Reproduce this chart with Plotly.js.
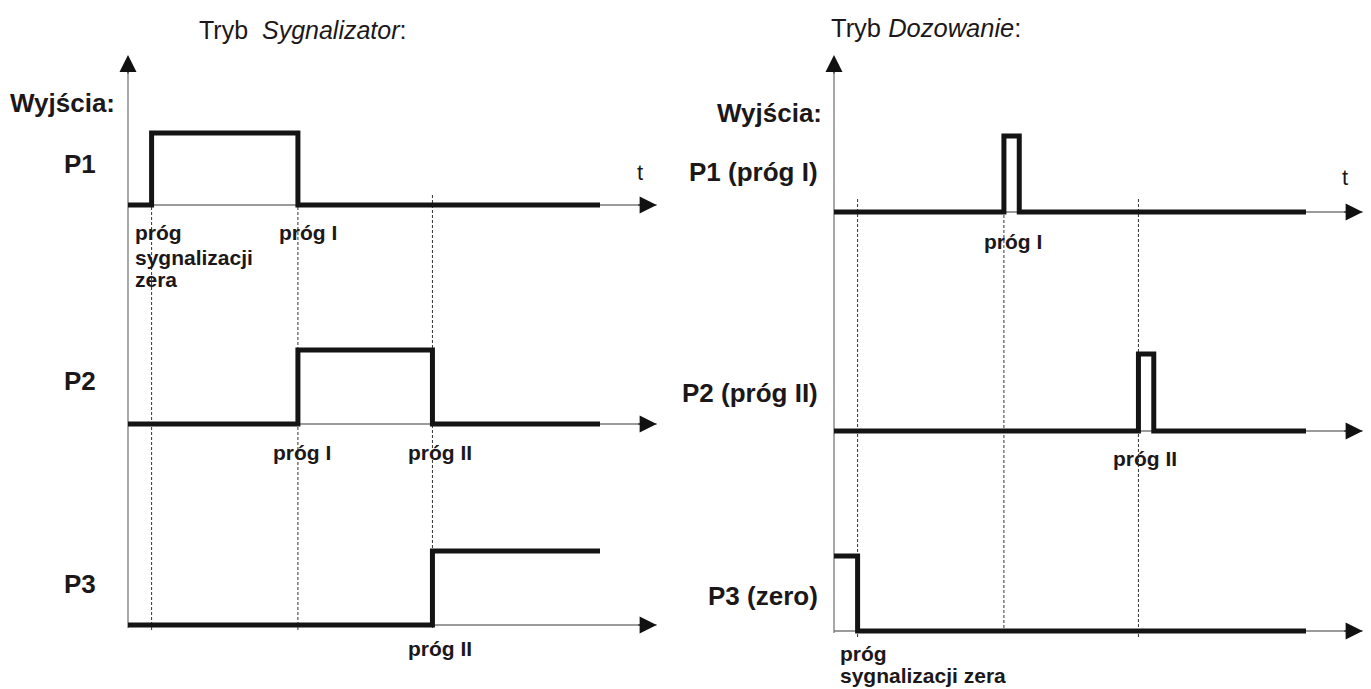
<!DOCTYPE html>
<html><head><meta charset="utf-8">
<script src="https://cdn.plot.ly/plotly-3.0.1.min.js"></script>
<style>html,body{margin:0;padding:0;background:#fff;}#chart{width:1371px;height:689px;}</style>
</head><body><div id="chart"></div>
<script>
// ---------------- DATA (time in arbitrary units) ----------------
const panelTitles = ['Tryb\u00a0 <i>Sygnalizator</i>:', 'Tryb <i>Dozowanie</i>:'];
const outputsLabel = 'Wyjścia:';
const timeLabel = 't';
const sygRowLabels = ['P1', 'P2', 'P3'];
const dozRowLabels = ['P1 (próg I)', 'P2 (próg II)', 'P3 (zero)'];

// threshold times: [próg sygnalizacji zera, próg I, próg II]
const sygThresholds = [1.0, 7.2, 12.9];
const dozThresholds = [1.0, 7.2, 12.9];
const tEnd = 20.0;      // end of the drawn signals
const tAxisEnd = 22.4;  // tip of the time axis

// Tryb Sygnalizator – output states (step after each time point)
const sygP1_t = [0, 1.0, 7.2, 20.0];   const sygP1_v = [0, 1, 0, 0];
const sygP2_t = [0, 7.2, 12.9, 20.0];  const sygP2_v = [0, 1, 0, 0];
const sygP3_t = [0, 12.9, 20.0];       const sygP3_v = [0, 1, 1];
// Tryb Dozowanie – output states
const dozP1_t = [0, 7.2, 7.85, 20.0];   const dozP1_v = [0, 1, 0, 0];
const dozP2_t = [0, 12.9, 13.55, 20.0]; const dozP2_v = [0, 1, 0, 0];
const dozP3_t = [0, 1.0, 20.0];         const dozP3_v = [1, 0, 0];

// ---------------- LAYOUT GEOMETRY ----------------
const W = 1371, H = 689;
const PXU = 23.6;                 // pixels per time unit
const ORIG = [128, 834];          // pixel x of t = 0 in each panel
const XR = [[-0.6, 23.0], [-0.6, 22.6]];
const rowsGeo = [[[205, 133], [424, 350], [625, 551]],
                 [[212, 136], [431, 354], [631, 556]]];
const px = v => v / W;
const py = v => 1 - v / H;

const INK = '#1c1819';
const AXC = '#7a7a7a';
const BOLD = 'Liberation Sans, Arial, Helvetica, sans-serif';
const REG = '"Liberation Sans Narrow", "Arial Narrow", "Liberation Sans", Arial, sans-serif';

const layout = {
  width: W, height: H,
  margin: {l: 0, r: 0, t: 0, b: 0},
  paper_bgcolor: '#fff', plot_bgcolor: 'rgba(0,0,0,0)',
  showlegend: false,
  shapes: [], annotations: []
};

const xIds = ['x', 'x2'];
[0, 1].forEach(p => {
  const key = p === 0 ? 'xaxis' : 'xaxis2';
  layout[key] = {
    range: XR[p], visible: false, fixedrange: true,
    domain: [px(ORIG[p] + XR[p][0] * PXU), px(ORIG[p] + XR[p][1] * PXU)],
    anchor: p === 0 ? 'y' : 'y4'
  };
});

const yIds = [['y', 'y2', 'y3'], ['y4', 'y5', 'y6']];
[0, 1].forEach(p => rowsGeo[p].forEach((g, r) => {
  const id = yIds[p][r];
  const key = id === 'y' ? 'yaxis' : 'yaxis' + id.slice(1);
  const u = g[0] - g[1];
  layout[key] = {
    range: [-0.4, 1.4], visible: false, fixedrange: true,
    domain: [py(g[0] + 0.4 * u), py(g[1] - 0.4 * u)],
    anchor: xIds[p]
  };
}));

// ---------------- TRACES ----------------
const signals = [
  [[sygP1_t, sygP1_v], [sygP2_t, sygP2_v], [sygP3_t, sygP3_v]],
  [[dozP1_t, dozP1_v], [dozP2_t, dozP2_v], [dozP3_t, dozP3_v]]
];
const HEAD = {arrowhead: 2, arrowsize: 3.4, arrowwidth: 1, arrowcolor: '#111', standoff: 0};
const traces = [];
[0, 1].forEach(p => signals[p].forEach((s, r) => {
  // thin time axis
  traces.push({x: [0, tAxisEnd], y: [0, 0], xaxis: xIds[p], yaxis: yIds[p][r],
    mode: 'lines', line: {color: AXC, width: 1.4}, hoverinfo: 'skip'});
  // output state
  traces.push({x: s[0], y: s[1], xaxis: xIds[p], yaxis: yIds[p][r],
    mode: 'lines', line: {color: '#141414', width: 5, shape: 'hv'}, hoverinfo: 'skip'});
  // arrow head of time axis
  layout.annotations.push(Object.assign({x: tAxisEnd, y: 0, xref: xIds[p], yref: yIds[p][r],
    ax: -20, ay: 0, text: '', showarrow: true}, HEAD));
}));

// vertical "Wyjścia" axes
const vBottom = [628, 633];
[0, 1].forEach(p => {
  layout.shapes.push({type: 'line', xref: xIds[p], yref: 'paper', x0: 0, x1: 0,
    y0: py(vBottom[p]), y1: py(62), line: {color: AXC, width: 1.3}, layer: 'below'});
  layout.annotations.push(Object.assign({x: 0, y: py(55), xref: xIds[p], yref: 'paper',
    ax: 0, ay: 20, text: '', showarrow: true}, HEAD));
});

// dotted threshold lines
const thr = [sygThresholds, dozThresholds];
const dotExt = [[[207, 630], [207, 630], [193, 628]],
                [[198, 637], [213, 633], [197, 637]]];
[0, 1].forEach(p => thr[p].forEach((t, i) => {
  layout.shapes.push({type: 'line', xref: xIds[p], yref: 'paper', x0: t, x1: t,
    y0: py(dotExt[p][i][1]), y1: py(dotExt[p][i][0]), layer: 'below',
    line: {color: '#333', width: 1, dash: '3px,2px'}});
}));

// ---------------- TEXT ----------------
const ann = (o) => layout.annotations.push(Object.assign({showarrow: false}, o));
const boldFont = s => ({family: BOLD, size: s, color: INK});

// titles
ann({text: panelTitles[0], xref: 'paper', yref: 'paper', x: px(197), y: py(29.6),
  xanchor: 'left', yanchor: 'middle', font: {family: REG, size: 25, color: INK}});
ann({text: panelTitles[1], xref: 'paper', yref: 'paper', x: px(829), y: py(28),
  xanchor: 'left', yanchor: 'middle', font: {family: REG, size: 25.5, color: INK}});

// "Wyjścia:"
ann({text: '<b>' + outputsLabel + '</b>', xref: 'paper', yref: 'paper', x: px(62), y: py(102.5),
  xanchor: 'center', yanchor: 'middle', font: boldFont(26)});
ann({text: '<b>' + outputsLabel + '</b>', xref: 'paper', yref: 'paper', x: px(769), y: py(112.5),
  xanchor: 'center', yanchor: 'middle', font: boldFont(26)});

// row labels
const rowLabY = [[164, 381, 584], [172.5, 393, 596]];
const rowLabX = [98, 820];
const rowLabels = [sygRowLabels, dozRowLabels];
[0, 1].forEach(p => rowLabels[p].forEach((lab, r) => {
  ann({text: '<b>' + lab + '</b>', xref: 'paper', yref: 'paper', x: px(rowLabX[p]), y: py(rowLabY[p][r]),
    xanchor: 'right', yanchor: 'middle', font: boldFont(26)});
}));

// "t"
ann({text: timeLabel, xref: 'paper', yref: 'paper', x: px(640), y: py(172), xanchor: 'center', yanchor: 'middle',
  font: {family: BOLD, size: 22, color: INK}});
ann({text: timeLabel, xref: 'paper', yref: 'paper', x: px(1345), y: py(177), xanchor: 'center', yanchor: 'middle',
  font: {family: BOLD, size: 22, color: INK}});

// threshold labels
const LS = 21;
const thrLab = (txt, p, i, shift, yPx, anchor) => ann({
  text: '<b>' + txt + '</b>', xref: xIds[p], yref: 'paper', x: thr[p][i], y: py(yPx),
  xshift: shift, xanchor: anchor || 'center', yanchor: 'middle', font: boldFont(LS)});
// Sygnalizator
thrLab('próg', 0, 0, -19, 232.6, 'left');
thrLab('sygnalizacji', 0, 0, -19, 257.6, 'left');
thrLab('zera', 0, 0, -19, 279.6, 'left');
thrLab('próg I', 0, 1, 10, 232.6);
thrLab('próg I', 0, 1, 3.7, 452.6);
thrLab('próg II', 0, 2, 7.5, 452.6);
thrLab('próg II', 0, 2, 7.7, 648);
// Dozowanie
thrLab('próg I', 1, 1, 9, 241);
thrLab('próg II', 1, 2, 7, 458);
thrLab('próg', 1, 0, -20, 653, 'left');
thrLab('sygnalizacji zera', 1, 0, -20, 675.5, 'left');

Plotly.newPlot('chart', traces, layout, {staticPlot: true, displayModeBar: false});
</script>
</body></html>
